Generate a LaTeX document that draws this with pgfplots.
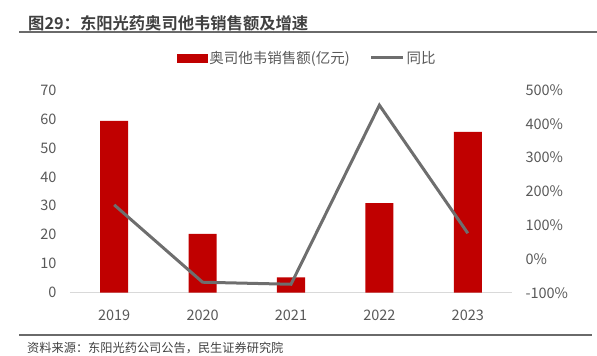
\documentclass[border=0pt]{standalone}
\usepackage{fontspec}
\setmainfont{Noto Sans CJK SC}[BoldFont={Noto Sans CJK SC Bold}]
\usepackage{pgfplots}
\pgfplotsset{compat=1.18}
\definecolor{barred}{HTML}{C00000}
\definecolor{linegray}{HTML}{6E6E6E}
\definecolor{ticktext}{HTML}{595959}
\definecolor{axisgray}{HTML}{D9D9D9}
\definecolor{titlegray}{HTML}{404040}
\definecolor{rulegray}{HTML}{6A6A6A}

\begin{document}
\begin{tikzpicture}
\useasboundingbox (0pt,0pt) rectangle (597pt,356pt);
\node[anchor=west, inner sep=0pt, text=titlegray, font=\fontsize{16.3}{19}\selectfont\bfseries] at (28pt,333pt) {图29：东阳光药奥司他韦销售额及增速};
\draw[line width=2pt, rulegray] (19pt,323.7pt) -- (597pt,323.7pt);
\draw[line width=1.3pt, rulegray] (19pt,21pt) -- (592pt,21pt);
\node[anchor=west, inner sep=0pt, text=titlegray, font=\fontsize{12.2}{14}\selectfont] at (27pt,8.5pt) {资料来源：东阳光药公司公告，民生证券研究院};

\begin{axis}[
  at={(70pt,63.3pt)}, anchor=south west,
  scale only axis, width=442pt, height=202.7pt,
  xmin=-0.5, xmax=4.5, ymin=0, ymax=70,
  enlargelimits=false,
  ybar, bar width=28pt,
  axis line style={draw=none},
  major tick length=0pt,
  xtick={0,1,2,3,4},
  xticklabels={2019,2020,2021,2022,2023},
  ytick={0,10,20,30,40,50,60,70},
  /pgf/number format/assume math mode=true,
  tick label style={text=ticktext, font=\fontsize{14.5}{17}\selectfont},
  xticklabel style={anchor=base, yshift=-27.8pt},
  yticklabel style={xshift=-10pt},
]
\draw[axisgray, line width=1pt] (rel axis cs:0,0) -- (rel axis cs:1,0);
\addplot[fill=barred, draw=none] coordinates {(0,59.3) (1,20.3) (2,5.3) (3,30.9) (4,55.5)};
\end{axis}

\begin{axis}[
  at={(70pt,63.3pt)}, anchor=south west,
  scale only axis, width=442pt, height=202.7pt,
  xmin=-0.5, xmax=4.5, ymin=-100, ymax=500,
  enlargelimits=false,
  axis y line*=right, axis x line=none,
  axis line style={draw=none},
  major tick length=0pt,
  ytick={-100,0,100,200,300,400,500},
  yticklabels={-100\%,0\%,100\%,200\%,300\%,400\%,500\%},
  /pgf/number format/assume math mode=true,
  tick label style={text=ticktext, font=\fontsize{14.5}{17}\selectfont},
  yticklabel style={xshift=10pt},
  legend columns=2,
  legend style={draw=none, fill=none, at={(0.537,1.158)}, anchor=center,
    font=\fontsize{14.5}{17}\selectfont, text=ticktext,
    /tikz/every even column/.append style={column sep=18pt}},
]
\addlegendimage{legend image code/.code={\fill[barred] (0pt,-4pt) rectangle (30pt,4pt);}}
\addlegendentry{奥司他韦销售额(亿元)}
\addplot[linegray, line width=3pt, mark=none,
  legend image code/.code={\draw[linegray, line width=3pt] (0pt,0pt) -- (32pt,0pt);}]
  coordinates {(0,160) (1,-69) (2,-75) (3,455) (4,76)};
\addlegendentry{同比}
\end{axis}
\end{tikzpicture}
\end{document}
